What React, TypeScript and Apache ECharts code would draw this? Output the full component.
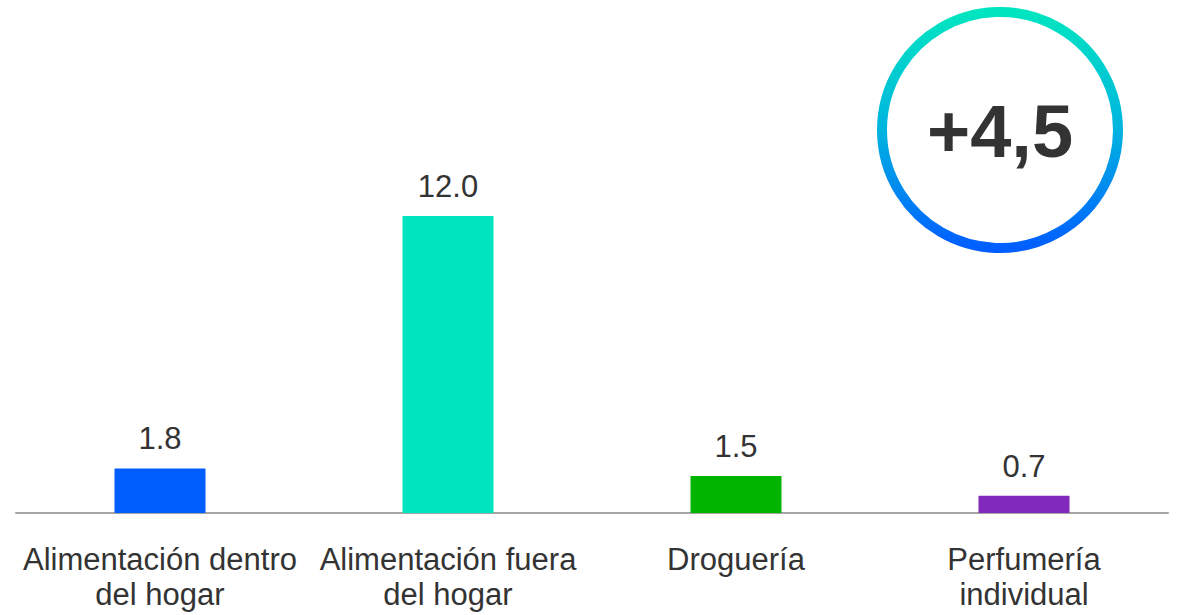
import React, { useEffect, useRef } from "react";
import * as echarts from "echarts";

const categories = [
  "Alimentación dentro\ndel hogar",
  "Alimentación fuera\ndel hogar",
  "Droguería",
  "Perfumería\nindividual",
];
const values = [1.8, 12.0, 1.5, 0.7];
const barColors = ["#005EFF", "#00E5BF", "#00B400", "#8129BC"];
const badgeText = "+4,5";

const FONT = "'Liberation Sans', Arial, sans-serif";

export default function App() {
  const ref = useRef<HTMLDivElement>(null);
  useEffect(() => {
    if (!ref.current) return;
    const chart = echarts.init(ref.current, undefined, { renderer: "svg" });
    chart.setOption({
      animation: false,
      backgroundColor: "#ffffff",
      textStyle: { fontFamily: FONT },
      grid: { left: 16, right: 13, top: 18, bottom: 102, containLabel: false },
      xAxis: {
        type: "category",
        data: categories,
        axisLine: { show: true, lineStyle: { color: "#A6A6A6", width: 2 } },
        axisTick: { show: false },
        axisLabel: {
          interval: 0,
          hideOverlap: false,
          color: "#333333",
          fontFamily: FONT,
          fontSize: 31,
          lineHeight: 35,
          margin: 29,
        },
      },
      yAxis: {
        type: "value",
        min: 0,
        max: 20,
        show: false,
        splitLine: { show: false },
      },
      series: [
        {
          type: "bar",
          barWidth: 91,
          data: values.map((v, i) => ({ value: v, itemStyle: { color: barColors[i] } })),
          label: {
            show: true,
            position: "top",
            distance: 14,
            color: "#333333",
            fontFamily: FONT,
            fontSize: 31,
            formatter: (p: any) => Number(p.value).toFixed(1),
          },
        },
      ],
      graphic: [
        {
          type: "circle",
          shape: { cx: 1000, cy: 130, r: 118 },
          style: {
            fill: "#ffffff",
            lineWidth: 10,
            stroke: new echarts.graphic.LinearGradient(0, 0, 0, 1, [
              { offset: 0, color: "#00E5C0" },
              { offset: 0.5, color: "#00B4E0" },
              { offset: 1, color: "#005EFF" },
            ]),
          },
        },
        {
          type: "text",
          x: 1000,
          y: 131,
          style: {
            text: badgeText,
            fill: "#333333",
            font: "bold 74px 'Liberation Sans', Arial, sans-serif",
            textAlign: "center",
            textVerticalAlign: "middle",
          },
        },
      ],
    });
    return () => chart.dispose();
  }, []);
  return (
    <div
      ref={ref}
      style={{ position: "fixed", left: 0, top: 0, width: 1181, height: 615 }}
    />
  );
}
